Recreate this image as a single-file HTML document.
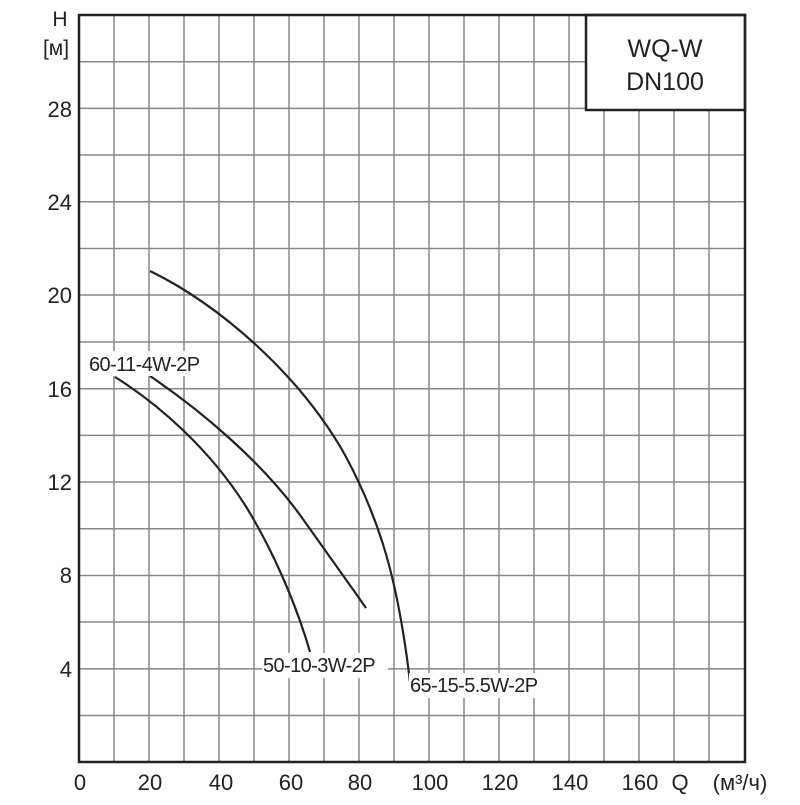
<!DOCTYPE html><html><head><style>body{margin:0;background:#fff}</style></head><body>
<svg width="800" height="800" viewBox="0 0 800 800" xmlns="http://www.w3.org/2000/svg" font-family="Liberation Sans, sans-serif">
<g stroke="#888" stroke-width="1.5">
<path d="M114 15V762M149 15V762M184 15V762M219 15V762M254 15V762M289 15V762M324 15V762M359 15V762M394 15V762M429 15V762M464 15V762M499 15V762M534 15V762M569 15V762M604 15V762M639 15V762M674 15V762M709 15V762"/>
<path d="M79 61.7H745M79 108.4H745M79 155H745M79 201.8H745M79 248.5H745M79 295H745M79 342H745M79 388.7H745M79 435.4H745M79 482H745M79 528.8H745M79 575.5H745M79 622H745M79 668.9H745M79 715.5H745"/>
</g>
<rect x="586" y="15" width="159" height="95" fill="#fff" stroke="#222" stroke-width="2.5"/>
<rect x="79" y="15" width="666" height="747" fill="none" stroke="#222" stroke-width="2.5"/>
<text x="665" y="57" font-size="25" text-anchor="middle" fill="#222">WQ-W</text>
<text x="665" y="90" font-size="25" text-anchor="middle" fill="#222">DN100</text>
<g fill="none" stroke="#222" stroke-width="2.2">
<path d="M115 377 C160 405 210 450 245 505 C270 545 295 600 310 652"/>
<path d="M150 376 C200 410 260 460 300 515 C325 550 345 578 366 608"/>
<path d="M150 271 C220 305 300 375 345 455 C380 520 398 580 410 682"/>
</g>
<g font-size="20" fill="#222" letter-spacing="-0.6">
<rect x="88" y="351" width="126" height="25" fill="#fff"/>
<text x="89" y="371">60-11-4W-2P</text>
<rect x="262" y="653" width="126" height="25" fill="#fff"/>
<text x="263" y="672">50-10-3W-2P</text>
<rect x="409" y="673" width="148" height="25" fill="#fff"/>
<text x="410" y="692">65-15-5.5W-2P</text>
</g>
<g font-size="22" fill="#222" text-anchor="end">
<text x="72" y="117">28</text><text x="72" y="210">24</text><text x="72" y="303">20</text><text x="72" y="397">16</text><text x="72" y="490">12</text><text x="72" y="583">8</text><text x="72" y="677">4</text>
<text x="60" y="26" font-size="21" text-anchor="middle">H</text>
<text x="56" y="55" font-size="21" text-anchor="middle">[м]</text>
</g>
<g font-size="22" fill="#222" text-anchor="middle">
<text x="80" y="790">0</text><text x="150" y="790">20</text><text x="221" y="790">40</text><text x="291" y="790">60</text><text x="360" y="790">80</text><text x="430" y="790">100</text><text x="500" y="790">120</text><text x="570" y="790">140</text><text x="640" y="790">160</text>
<text x="680" y="790">Q</text><text x="740" y="790">(м³/ч)</text>
</g>
</svg></body></html>
